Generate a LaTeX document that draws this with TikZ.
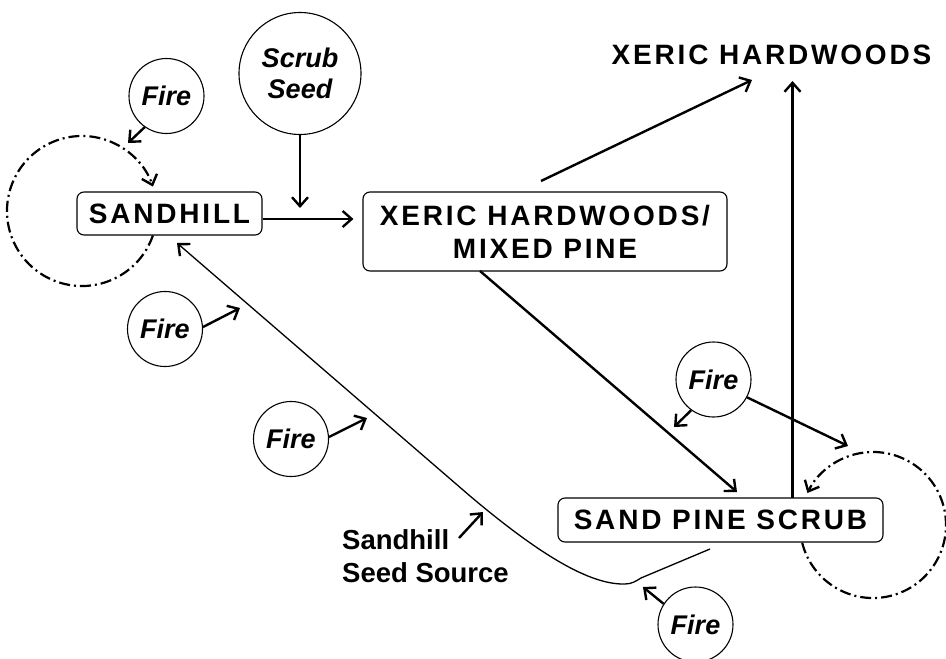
\documentclass[tikz,border=0pt]{standalone}
\usepackage{fontspec}
\setmainfont{Liberation Sans}
\newfontfamily\trk[LetterSpace=10]{Liberation Sans}
\usetikzlibrary{arrows.meta,calc}
\begin{document}
\begin{tikzpicture}[x=1pt,y=-1pt,
  arr/.style={line width=2.4pt,-{Straight Barb[length=9pt,width=16pt]}},
  thinarr/.style={line width=1.3pt,{Straight Barb[length=9pt,width=16pt,line width=2.4pt]}-},
  dashdot/.style={line width=2.2pt,dash pattern=on 11pt off 4pt on 2pt off 4pt,-{Straight Barb[length=9pt,width=16pt,line width=2.4pt]}},
  box/.style={draw,line width=1.1pt,rounded corners=7pt,fill=white,inner sep=0pt,align=center,
    font=\trk\fontsize{28}{33}\selectfont\bfseries},
  fire/.style={circle,draw,line width=1.1pt,minimum size=75pt,inner sep=0pt,align=center,
    font=\fontsize{27}{31}\selectfont\bfseries\itshape},
  plain/.style={inner sep=0pt,font=\fontsize{27.5}{33}\selectfont\bfseries}]
\useasboundingbox (0,0) rectangle (946,659);

% self-loops (dash-dot), drawn before boxes so the boxes hide them
\draw[dashdot] (82,211) ++(19:75) arc[start angle=19,end angle=341,radius=75];
\draw[dashdot] (873,525) ++(166:73) arc[start angle=166,end angle=-154,radius=73];

% state boxes
\node[box,minimum width=185pt,minimum height=43pt] (sh) at (169.5,213.5) {SANDHILL};
\node[box,minimum width=364pt,minimum height=79pt] (xm) at (545,231.5) {XERIC HARDWOODS/\\MIXED PINE};
\node[box,minimum width=325pt,minimum height=44pt] (sps) at (720.5,520) {SAND PINE SCRUB};
\node[inner sep=0pt,font=\trk\fontsize{28}{33}\selectfont\bfseries] (xh) at (771.5,55) {XERIC HARDWOODS};

% circles
\node[fire,minimum size=122pt] (ss) at (300,73.5) {Scrub\\Seed};
\node[fire] (f1) at (166.5,96) {Fire};
\node[fire] (f2) at (165,329) {Fire};
\node[fire] (f3) at (291,439) {Fire};
\node[fire] (f4) at (713.5,379.5) {Fire};
\node[fire] (f5) at (695.5,624.5) {Fire};

\node[plain,anchor=west,align=left] (seed) at (342,556.5) {Sandhill\\Seed Source};

% free ends
\coordinate (j1) at ([yshift=-5.5pt]sh.east);
\coordinate (j2) at (300,208);
\coordinate (a1) at (541,181);
\coordinate (a2) at (752,80);
\coordinate (b1) at (792.5,498);
\coordinate (b2) at (792.5,81);
\coordinate (c1) at (480,271);
\coordinate (c2) at (737,492);
\coordinate (t1) at (128,143);
\coordinate (t2) at (240,308);
\coordinate (t3) at (367,418);
\coordinate (t4) at (674,427);
\coordinate (t5) at (848,446);
\coordinate (t6) at (643,587);
\coordinate (s1) at (459,538);
\coordinate (s2) at (483,512);
\coordinate (p0) at (177,243);
\coordinate (p1) at (710,549);

% transitions
\draw[arr,shorten >=9pt] (j1) -- (j1 -| xm.west);
\draw[arr] (ss) -- (j2);
\draw[arr] (a1) -- (a2);
\draw[arr] (b1) -- (b2);
\draw[arr] (c1) -- (c2);

% fire arrows
\draw[arr] (f1.235) -- (t1);
\draw[arr] (f2.3) -- (t2);
\draw[arr] (f3.3) -- (t3);
\draw[arr] (f4.234) -- (t4);
\draw[arr] (f4.332) -- (t5);
\draw[arr] (f5.147) -- (t6);

% sandhill seed source
\draw[thinarr] (p0) -- (470,496) .. controls (540,555) and (590,585) .. (625,584)
  .. controls (632,584) and (636,581) .. (641,578) -- (p1);
\draw[arr] (s1) -- (s2);
\end{tikzpicture}
\end{document}
